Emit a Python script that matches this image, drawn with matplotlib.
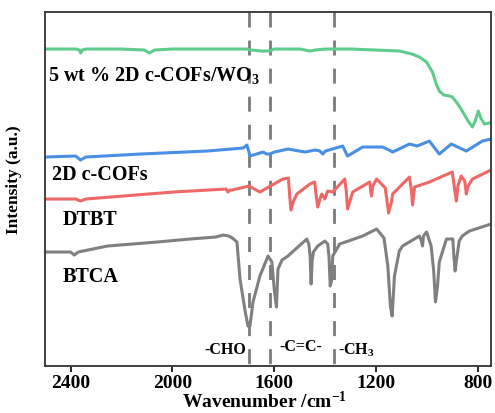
import matplotlib
matplotlib.use("Agg")
import matplotlib.pyplot as plt
import numpy as np

plt.rcParams['font.family'] = ['Liberation Serif', 'DejaVu Serif']
plt.rcParams['mathtext.fontset'] = 'custom'
plt.rcParams['mathtext.rm'] = 'Liberation Serif:bold'
plt.rcParams['mathtext.it'] = 'Liberation Serif:bold'
plt.rcParams['mathtext.bf'] = 'Liberation Serif:bold'

# --- data (wavenumber cm^-1, intensity a.u.) ---
green_x = [2500, 2380, 2365, 2360, 2355, 2340, 2200, 2110, 2090, 2070, 2000, 1800,
           1710, 1690, 1650, 1620, 1600, 1500, 1460, 1440, 1400, 1300, 1200,
           1109, 1060, 1031, 1003, 980, 965, 953, 935, 913, 902, 880, 863, 840,
           823, 812, 800, 790, 776, 757, 750]
green_y = [317, 317, 316, 313, 316, 317, 317, 316, 313, 316, 317, 317,
           317, 316, 315, 315, 317, 317, 315, 316, 317, 317, 316,
           315, 312, 309, 304, 294, 282, 275, 271, 270, 269, 262, 255, 245,
           239, 245, 255, 248, 242, 243, 244]

blue_x = [2500, 2380, 2361, 2340, 2126, 1864, 1723, 1708, 1700, 1696, 1657, 1645, 1630,
          1618, 1600, 1547, 1480, 1440, 1422, 1410, 1400, 1332, 1313, 1254, 1176, 1150,
          1136, 1070, 1040, 992, 953, 906, 847, 784, 750]
blue_y = [209, 210, 206, 209, 212, 215, 218, 221, 214, 210, 213, 214, 212,
          212, 214, 217, 214, 216, 215, 212, 215, 220, 210, 219, 219, 216,
          214, 222, 220, 225, 212, 222, 215, 225, 227]

red_x = [2500, 2380, 2361, 2340, 1997, 1790, 1782, 1774, 1766, 1700, 1657, 1567,
         1545, 1540, 1535, 1525, 1512, 1461, 1442, 1436, 1430, 1420, 1414, 1402,
         1391, 1371, 1324, 1318, 1313, 1300, 1293, 1226, 1222, 1219, 1214, 1199, 1165,
         1152, 1140, 1136, 1070, 1062, 1058, 1050, 992, 902, 892, 886, 880, 867,
         853, 847, 840, 823, 750]
red_y = [167, 167, 165, 167, 174, 177, 174, 176, 176, 180, 174, 187,
         188, 170, 156, 165, 172, 182, 184, 170, 159, 168, 172, 167,
         175, 174, 187, 175, 157, 168, 174, 184, 175, 170, 180, 187, 178,
         153, 165, 172, 189, 175, 161, 179, 184, 194, 175, 165, 180, 190,
         185, 172, 180, 187, 196]

grey_x = [2500, 2400, 2385, 2370, 2255, 2060, 1931, 1830, 1801, 1780, 1765, 1747,
          1735, 1715, 1704, 1696, 1684, 1657, 1625, 1610, 1600, 1592, 1586,
          1570, 1547, 1473, 1465, 1460, 1456, 1452, 1447, 1430, 1402, 1391, 1386,
          1381, 1376, 1371, 1344, 1254, 1199, 1170, 1155, 1145, 1138, 1129, 1110,
          1097, 1031, 1023, 1019, 1015, 1003, 985, 975, 968, 960, 953, 925,
          900, 896, 891, 886, 875, 863, 835, 750]
grey_y = [114, 114, 111, 114, 120, 124, 127, 129, 131, 130, 128, 124,
          87, 55, 40, 40, 64, 90, 110, 104, 75, 59, 97,
          106, 110, 127, 122, 110, 82, 105, 114, 120, 125, 122, 110,
          80, 85, 110, 122, 130, 137, 128, 100, 60, 50, 90, 115,
          120, 130, 125, 120, 130, 134, 120, 95, 64, 80, 104, 127,
          127, 110, 95, 105, 125, 130, 135, 142]

curves = [
    (green_x, green_y, '#5fcb8c'),
    (blue_x, blue_y, '#4a8fe3'),
    (red_x, red_y, '#ef6868'),
    (grey_x, grey_y, '#808080'),
]

dash_positions = [1700, 1618, 1367]

labels = ['5 wt % 2D c-COFs/WO$_3$', '2D c-COFs', 'DTBT', 'BTCA']
label_pos = [(2490, 292), (2472, 192), (2432, 147), (2432, 90)]

group_labels = ['-CHO', '-C=C-', '-CH$_3$']
group_pos = [(1712, 17), (1497, 20), (1352, 17)]
group_ha = ['right', 'center', 'left']

xticks = [2400, 2000, 1600, 1200, 800]

fig = plt.figure(figsize=(4.95, 4.14), dpi=100)
ax = fig.add_axes([0.091, 0.1135, 0.901, 0.855])

for xs, ys, c in curves:
    ax.plot(xs, ys, color=c, lw=2.2, solid_joinstyle='round', solid_capstyle='round')

for d in dash_positions:
    ax.plot([d, d], [1, 0], transform=ax.get_xaxis_transform(), color='#7a7a7a',
            lw=2.0, linestyle=(0, (5.4, 4.7)), zorder=0)

for t, (x, y) in zip(labels, label_pos):
    ax.text(x, y, t, fontsize=14.5, fontweight='bold', va='center', ha='left')

for t, (x, y), ha in zip(group_labels, group_pos, group_ha):
    ax.text(x, y, t, fontsize=11.5, fontweight='bold', va='center', ha=ha)

ax.set_xlim(2500, 750)
ax.set_ylim(0, 354)
ax.set_xticks(xticks)
ax.set_xticklabels([str(v) for v in xticks], fontsize=14, fontweight='bold')
ax.set_yticks([])
ax.tick_params(axis='x', direction='out', length=4, width=1.2, pad=2, colors='black')
for s in ax.spines.values():
    s.set_linewidth(1.3)
    s.set_color('#333333')

ax.set_xlabel('Wavenumber /cm$^{-1}$', fontsize=14, fontweight='bold')
ax.xaxis.set_label_coords(0.492, -0.098, transform=ax.transAxes)
ax.xaxis.label.set_va('center')
ax.set_ylabel('Intensity (a.u.)', fontsize=12.5, fontweight='bold')
ax.yaxis.set_label_coords(-0.051, 0.53)

fig.savefig('out.png', dpi=100)
